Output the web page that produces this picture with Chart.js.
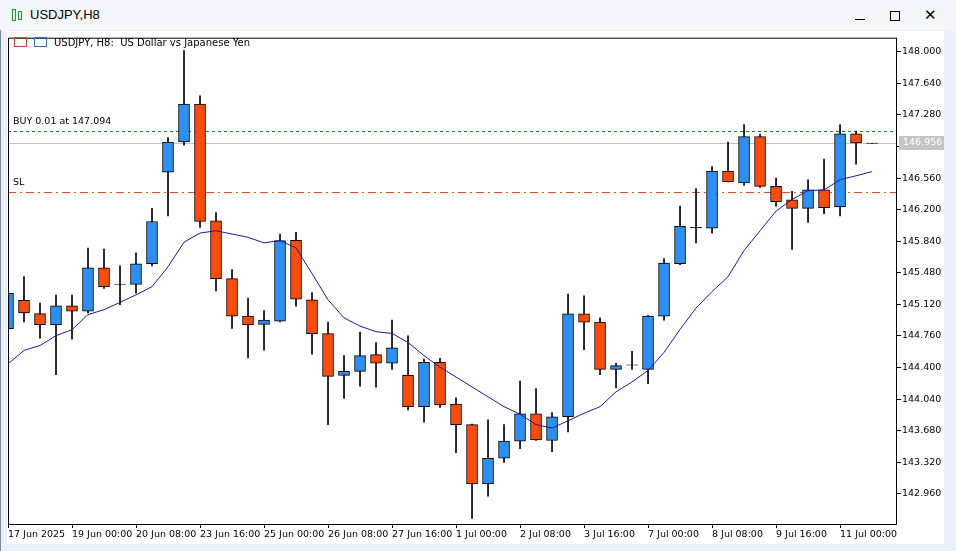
<!DOCTYPE html>
<html><head><meta charset="utf-8">
<script src="https://cdn.jsdelivr.net/npm/chart.js@4"></script>
<style>
html,body{margin:0;padding:0;width:956px;height:551px;overflow:hidden;background:#eaf1fa;font-family:"DejaVu Sans",sans-serif;}
#titlebar{position:absolute;left:0;top:0;width:956px;height:30px;background:#f3f7fc;}
#titlebar .t{position:absolute;left:30px;top:7px;color:#000;font-family:"Liberation Sans",sans-serif;font-size:13px}
#wrap{position:absolute;left:7px;top:31px;width:937px;height:513px;background:#fff;}
#c{position:absolute;left:0;top:0;}
.hdr{position:absolute;left:47px;top:6px;font-size:10px;font-family:"DejaVu Sans",sans-serif;color:#000}
.lbl{position:absolute;font-size:9.5px;font-family:"DejaVu Sans",sans-serif;color:#000}
.ic{position:absolute;border:1px solid;box-sizing:border-box}
</style></head><body>
<div id="titlebar">
  <div class="ic" style="left:12px;top:9px;width:4px;height:12px;border-color:#1a9a1a"></div>
  <div class="ic" style="left:18px;top:11px;width:4px;height:9px;border-color:#1a9a1a"></div>
  <div class="t">USDJPY,H8</div>
  <div style="position:absolute;left:855px;top:19px;width:10px;height:1px;background:#000"></div>
  <div class="ic" style="left:890px;top:11px;width:10px;height:10px;border-color:#000"></div>
  <div style="position:absolute;left:924px;top:6px;font-size:15px;font-family:'DejaVu Sans'">✕</div>
</div>
<div style="position:absolute;left:0;top:30px;width:1px;height:521px;background:#7a8aa0"></div>
<div id="wrap">
  <canvas id="c" width="937" height="513"></canvas>
  <div class="ic" style="left:7px;top:6px;width:13px;height:10px;border-color:#d04030"></div>
  <div class="ic" style="left:27px;top:6px;width:13px;height:10px;border-color:#3070c0"></div>
  <div class="hdr">USDJPY, H8:&nbsp; US Dollar vs Japanese Yen</div>
  <div class="lbl" style="left:6px;top:84px">BUY 0.01 at 147.094</div>
  <div class="lbl" style="left:6px;top:145px">SL</div>
</div>
<script>
const xLabels=["17 Jun 2025","19 Jun 00:00","20 Jun 08:00","23 Jun 16:00","25 Jun 00:00","26 Jun 08:00","27 Jun 16:00","1 Jul 00:00","2 Jul 08:00","3 Jul 16:00","7 Jul 00:00","8 Jul 08:00","9 Jul 16:00","11 Jul 00:00"];
const yTicks=[148.000,147.640,147.280,146.920,146.560,146.200,145.840,145.480,145.120,144.760,144.400,144.040,143.680,143.320,142.960];
const opens=[144.842,145.165,145.014,144.884,145.104,145.041,145.536,145.348,145.348,145.585,146.628,146.972,147.404,146.072,145.413,144.985,144.891,144.929,145.849,145.172,144.786,144.310,144.355,144.546,144.448,144.310,143.953,144.460,143.984,143.748,143.073,143.365,143.560,143.871,143.567,143.838,145.011,144.918,144.378,144.426,144.378,144.985,145.585,145.993,145.990,146.639,146.504,147.032,146.465,146.313,146.215,146.425,146.234,147.066,146.956];
const highs=[145.270,145.438,145.135,145.225,145.225,145.761,145.750,145.559,145.708,146.215,147.021,148.015,147.497,146.166,145.517,145.191,145.048,145.922,145.941,145.255,144.918,144.535,144.805,144.685,144.940,144.760,144.497,144.505,144.055,143.755,143.804,143.748,144.246,144.159,143.886,145.236,145.217,144.966,144.448,144.583,144.996,145.641,146.241,146.440,146.690,146.972,147.171,147.058,146.560,146.409,146.541,146.777,147.171,147.096,146.956];
const lows=[144.820,144.921,144.733,144.317,144.722,145.022,145.303,145.116,145.247,145.559,146.128,146.935,145.998,145.273,144.846,144.508,144.598,144.921,145.098,144.553,143.748,144.047,144.186,144.175,144.378,143.916,143.777,143.945,143.428,142.679,142.933,143.316,143.473,143.567,143.439,143.664,144.603,144.317,144.167,144.378,144.216,144.940,145.573,145.821,145.933,146.515,146.477,146.454,146.241,145.746,146.054,146.155,146.128,146.718,146.956];
const closes=[145.247,145.022,144.887,145.104,145.041,145.536,145.322,145.350,145.581,146.065,146.972,147.404,146.065,145.413,144.985,144.884,144.940,145.847,145.180,144.786,144.299,144.355,144.535,144.448,144.625,143.953,144.460,143.973,143.748,143.073,143.365,143.560,143.871,143.574,143.838,145.011,144.918,144.378,144.422,144.428,144.985,145.592,146.009,145.996,146.639,146.515,147.032,146.465,146.290,146.215,146.425,146.223,147.066,146.961,146.956];
const maValues=[144.441,144.595,144.651,144.763,144.831,145.003,145.059,145.143,145.228,145.322,145.548,145.829,145.933,145.959,145.922,145.885,145.821,145.847,145.764,145.472,145.172,144.966,144.872,144.808,144.789,144.685,144.535,144.403,144.291,144.178,144.066,143.953,143.867,143.748,143.709,143.792,143.878,143.953,144.122,144.235,144.366,144.572,144.834,145.078,145.266,145.435,145.734,145.959,146.184,146.316,146.417,146.425,146.541,146.586,146.634];
const buyPrice=147.094, bidPrice=146.956, slPrice=146.406;

const UP='#2b8ff5', DN='#ff4a0a';
const n=opens.length;
const bodies=[],wicks=[],bodyColors=[];
for(let i=0;i<n;i++){
  let o=opens[i],c=closes[i];
  const doji=Math.abs(o-c)<0.006;
  if(doji){c=o+0.004;}
  bodies.push({x:i,y:[o,c]});
  wicks.push({x:i,y:[lows[i],highs[i]]});
  bodyColors.push(doji?'#000':(closes[i]>=opens[i]?UP:DN));
}
const ma=maValues.map((v,i)=>({x:i,y:v}));

const lines={id:'lines',
  beforeDatasetsDraw(ch){
    const {ctx,chartArea:a,scales:{y}}=ch;
    ctx.save();ctx.beginPath();ctx.rect(a.left,a.top,a.right-a.left,a.bottom-a.top);ctx.clip();
    ctx.lineWidth=1;
    let yy=Math.round(y.getPixelForValue(bidPrice))+0.5;
    ctx.strokeStyle='#c0c0c0';ctx.setLineDash([]);ctx.beginPath();ctx.moveTo(a.left,yy);ctx.lineTo(a.right,yy);ctx.stroke();
    yy=Math.round(y.getPixelForValue(buyPrice))+0.5;
    ctx.strokeStyle='#1e7a1e';ctx.setLineDash([3,3]);ctx.beginPath();ctx.moveTo(a.left,yy);ctx.lineTo(a.right,yy);ctx.stroke();
    yy=Math.round(y.getPixelForValue(slPrice))+0.5;
    ctx.strokeStyle='#e84a1a';ctx.setLineDash([8,4,2,4]);ctx.beginPath();ctx.moveTo(a.left,yy);ctx.lineTo(a.right,yy);ctx.stroke();
    ctx.restore();
  },
  afterDraw(ch){
    const {ctx,chartArea:a,scales:{y}}=ch;
    ctx.save();ctx.strokeStyle='#000';ctx.lineWidth=1;ctx.setLineDash([]);
    ctx.strokeRect(a.left+0.5,a.top+0.5,a.right-a.left-1,a.bottom-a.top);
    const yy=Math.round(y.getPixelForValue(bidPrice));
    ctx.fillStyle='#c4c4c4';ctx.fillRect(a.right+2,yy-7,46,14);
    ctx.fillStyle='#fff';ctx.font='9.5px "DejaVu Sans"';ctx.textBaseline='middle';ctx.fillText(bidPrice.toFixed(3),a.right+6,yy);
    ctx.restore();
  }};

new Chart(document.getElementById('c'),{
  data:{datasets:[
    {type:'bar',data:wicks,backgroundColor:'#000',barThickness:1,grouped:false,order:3},
    {type:'bar',data:bodies,backgroundColor:bodyColors,borderColor:'#000',borderWidth:1,borderSkipped:false,barThickness:11,grouped:false,order:2},
    {type:'line',data:ma,borderColor:'#1a1aa8',borderWidth:1,pointRadius:0,tension:0,order:1}
  ]},
  options:{responsive:false,animation:false,devicePixelRatio:1,
    layout:{autoPadding:false,padding:{left:1,top:1,right:0,bottom:0}},
    plugins:{legend:{display:false},tooltip:{enabled:false}},
    scales:{
      x:{type:'linear',min:0,max:55.56,offset:false,
        afterBuildTicks(s){s.ticks=xLabels.map((l,i)=>({value:i*4}));},
        afterFit(s){s.height=20;},
        grid:{drawOnChartArea:false,offset:false,tickLength:4,color:'#000'},border:{display:false},
        ticks:{align:'start',autoSkip:false,maxRotation:0,padding:1,color:'#000',font:{family:'DejaVu Sans',size:9.5},callback:(v,i)=>xLabels[i]}},
      y:{position:'right',min:142.615,max:148.161,
        afterBuildTicks(s){s.ticks=yTicks.map(v=>({value:v}));},
        afterFit(s){s.width=47;},
        grid:{drawOnChartArea:false,tickLength:4,color:'#000'},border:{display:false},
        ticks:{padding:1,color:'#000',font:{family:'DejaVu Sans',size:9.5},callback:(v)=>v.toFixed(3)}}
    }},
  plugins:[lines]
});
</script>
</body></html>
